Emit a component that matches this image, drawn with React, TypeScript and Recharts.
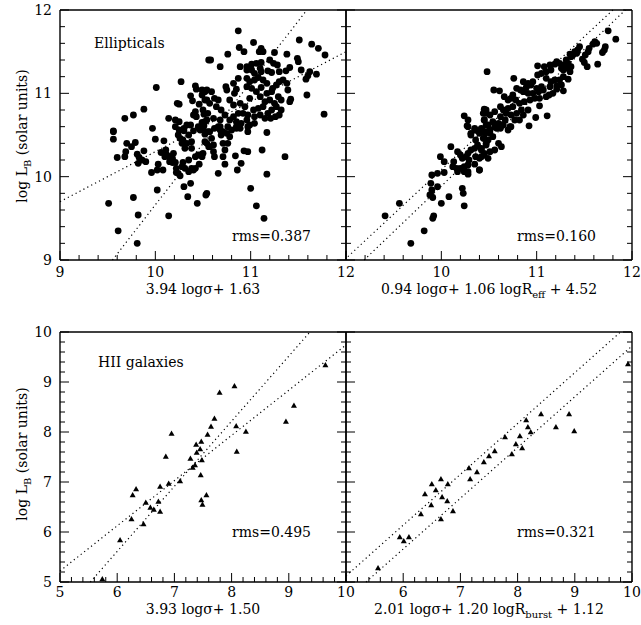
import React from 'react';
import { ScatterChart, Scatter, XAxis, YAxis, ReferenceLine } from 'recharts';

type Pt = [number, number];

// Ellipticals: x = 3.94 log sigma + 1.63, y = log L_B
const ellSigmaPts: Pt[] = [
  [10.56,11.40],[10.27,11.14],[10.01,11.07],[10.42,11.09],[10.43,11.05],[10.49,11.04],[10.52,11.02],[10.37,10.97],[10.23,10.88],[10.25,10.87],[10.39,10.91],[10.46,10.87],[10.54,10.92],[9.88,10.81],[9.77,10.74],[9.68,10.70],[10.14,10.70],[10.21,10.68],[10.42,10.78],[10.40,10.74],[10.43,10.72],[10.51,10.75],[10.25,10.66],[10.33,10.62],[10.37,10.62],[10.30,10.58],[10.21,10.60],[10.49,10.65],[10.54,10.68],[10.46,10.58],[10.51,10.61],[9.56,10.54],[9.97,10.58],
  [10.87,11.75],[11.03,11.61],[10.88,11.55],[10.93,11.50],[11.11,11.54],[11.13,11.50],[11.09,11.50],[10.76,11.47],[11.25,11.49],[11.38,11.47],[11.51,11.64],[11.64,11.59],[11.71,11.54],[11.78,11.46],[11.49,11.42],[11.50,11.38],[10.58,11.40],[10.68,11.32],[10.89,11.32],[11.01,11.35],[11.06,11.36],[11.11,11.37],[11.20,11.40],[11.24,11.36],[11.28,11.34],[10.96,11.32],[10.96,11.28],[11.01,11.28],[11.10,11.30],[11.11,11.26],[11.04,11.24],[11.18,11.27],[11.22,11.25],[11.30,11.26],[11.37,11.27],[11.41,11.31],[11.53,11.28],[11.58,11.17],[11.60,11.21],[11.69,11.23],[11.62,11.26],[11.59,10.98],[11.77,10.75],[11.41,10.90],[11.42,10.93],[11.39,11.04],[11.38,11.12],[11.34,11.16],[11.30,11.14],[11.27,11.10],[11.23,11.06],[10.87,11.18],[10.82,11.12],[10.75,11.04],[10.74,11.08],[10.85,11.05],[10.83,11.00],[10.96,11.18],[10.99,11.14],[11.04,11.16],[11.08,11.19],[11.13,11.16],[11.17,11.12],[10.96,11.08],[11.01,11.06],[11.06,11.02],[11.11,11.07],[11.17,11.00],[11.22,11.02],[11.29,10.96],[11.32,10.92],[11.20,10.92],[11.25,10.88],[11.15,10.90],[11.10,10.96],[10.54,11.04],[10.59,11.02],[10.49,10.98],[10.52,10.92],[10.62,10.94],[10.66,10.92],[10.57,10.88],[10.50,10.80],[10.55,10.76],[10.64,10.84],[10.69,10.80],[10.73,10.74],[10.61,10.70],[10.68,10.68],[10.52,10.66],
  [10.78,10.92],[10.82,10.86],[10.89,10.88],[10.94,10.84],[10.99,10.94],[11.03,10.80],[11.08,10.82],[11.13,10.84],[11.18,10.76],[11.22,10.80],[11.27,10.84],[11.32,10.80],[11.30,10.74],[11.26,10.72],[11.21,10.70],[11.15,10.70],[11.10,10.74],[11.04,10.72],[10.97,10.74],[10.92,10.76],[10.87,10.76],[10.82,10.72],[10.78,10.68],[10.85,10.66],[10.90,10.64],[10.96,10.68],[10.99,10.62],[11.04,10.64],[10.76,10.60],[10.68,10.60],[10.62,10.58],[10.71,10.54],[10.85,10.58],[10.97,10.54],[10.57,10.54],[10.49,10.62],
  [9.56,10.55],[9.56,10.45],[9.70,10.40],[9.75,10.36],[9.79,10.41],[9.69,10.30],[9.68,10.24],[9.60,10.23],[9.81,10.27],[9.83,10.23],[9.86,10.20],[9.88,10.31],[9.90,10.18],[9.82,10.16],[10.00,10.45],[10.09,10.43],[10.06,10.29],[10.11,10.32],[10.12,10.26],[10.10,10.24],[10.15,10.24],[10.19,10.28],[10.18,10.22],[10.15,10.18],[10.18,10.17],[10.03,10.15],[9.96,10.05],[10.02,10.08],[10.08,10.08],[10.21,10.17],[10.22,10.10],[10.22,10.05],[10.26,10.01],[10.24,10.04],[10.25,10.56],[10.30,10.55],[10.26,10.46],[10.29,10.44],[10.35,10.50],[10.28,10.40],[10.33,10.40],[10.38,10.42],[10.38,10.34],[10.31,10.34],[10.24,10.50],[10.40,10.55],[10.45,10.60],[10.47,10.56],[10.52,10.51],[10.54,10.40],[10.56,10.36],[10.45,10.26],[10.49,10.27],[10.42,10.24],[10.35,10.20],[10.29,10.17],[10.28,10.12],[10.31,10.10],[10.38,10.10],[10.42,10.10],[10.35,10.06],[10.40,10.08],[10.46,10.15],[9.51,9.68],[9.77,9.75],[9.82,9.54],[10.02,9.84],[10.14,9.53],[9.61,9.35],[9.81,9.20],[10.30,9.88],[10.37,9.92],[10.34,9.76],[10.44,9.68],[10.54,9.80],[10.53,9.78],
  [11.17,10.53],[11.12,10.32],[11.36,10.24],[10.93,10.31],[10.97,10.30],[10.84,10.25],[10.90,10.16],[10.86,10.08],[10.73,10.15],[10.66,10.04],[11.17,10.03],[11.00,9.86],[11.06,9.65],[11.14,9.50],[10.50,10.58],[10.55,10.54],[10.66,10.60],[10.68,10.56],[10.69,10.50],[10.75,10.52],[10.78,10.48],[10.80,10.56],[10.85,10.60],[10.89,10.58],[10.97,10.60],[10.52,10.42],[10.59,10.46],[10.61,10.38],[10.57,10.36],[10.71,10.40],[10.73,10.32],[10.76,10.40],[10.62,10.24],[10.71,10.24],[10.61,10.30],[10.50,10.28],[10.49,10.24],
];

// Ellipticals: x = 0.94 log sigma + 1.06 log Reff + 4.52, y = log L_B
const ellReffPts: Pt[] = [
  [11.75,11.75],[11.83,11.65],[11.63,11.60],[11.59,11.59],[11.61,11.62],[11.71,11.52],[11.72,11.56],[11.69,11.49],[11.64,11.35],[11.45,11.56],[11.43,11.52],[11.42,11.48],[11.40,11.50],[11.38,11.46],[11.36,11.44],[11.35,11.47],[11.54,11.50],[11.55,11.54],[11.51,11.46],[11.48,11.41],[11.50,11.37],[11.53,11.32],[11.31,11.40],[11.33,11.36],[11.29,11.34],[11.26,11.30],[11.21,11.38],[11.19,11.35],[11.24,11.36],[11.28,11.28],[11.33,11.30],[11.35,11.26],[11.36,11.32],[11.01,11.33],[11.08,11.32],[11.14,11.34],[11.15,11.28],[11.10,11.26],[11.05,11.24],[11.01,11.22],[10.48,11.26],[10.76,11.18],[11.28,11.20],[11.33,11.17],[11.24,11.16],[11.19,11.16],[11.15,11.14],[11.10,11.18],[11.21,11.09],[11.26,11.10],[11.14,11.08],[10.86,11.14],[10.91,11.12],[10.94,11.10],[10.89,11.07],[10.96,11.14],[11.00,11.06],[11.05,11.08],[11.07,11.04],[11.02,11.02],[10.96,11.00],[10.91,11.00],[10.86,11.02],[10.83,11.04],[10.79,11.06],[10.55,11.04],[10.61,11.03],[10.66,10.96],[10.70,10.92],[10.75,10.98],[10.73,10.94],[10.78,10.92],[10.82,10.88],[10.87,10.90],[10.93,10.92],[10.98,10.94],[11.03,10.94],[11.10,10.96],[11.13,10.98],[11.17,11.00],[11.21,11.05],[11.28,11.03],[11.03,10.85],[10.99,10.71],[11.11,10.73],[10.92,10.61],[10.47,10.80],[10.51,10.74],[10.44,10.76],[10.56,10.78],[10.62,10.84],[10.65,10.80],[10.70,10.82],[10.75,10.84],[10.68,10.76],[10.73,10.74],[10.79,10.76],[10.84,10.80],[10.62,10.72],[10.67,10.68],[10.60,10.64],[10.54,10.66],[10.49,10.62],[10.45,10.68],[10.42,10.58],[10.51,10.56],[10.58,10.58],[10.63,10.62],[10.72,10.60],[10.82,10.68],[10.77,10.68],[10.46,10.52],[10.51,10.52],[10.91,10.80],[10.86,10.74],
  [10.45,10.81],[10.47,10.76],[10.24,10.73],[10.28,10.68],[10.27,10.61],[10.35,10.58],[10.38,10.55],[10.42,10.57],[10.31,10.52],[10.45,10.68],[10.47,10.62],
  [10.10,10.36],[9.99,10.24],[10.03,10.18],[10.17,10.30],[10.20,10.26],[10.22,10.22],[10.13,10.18],[10.12,10.12],[10.16,10.10],[10.20,10.10],[10.24,10.12],[10.28,10.14],[10.29,10.20],[10.26,10.24],[10.28,10.28],[10.31,10.32],[10.35,10.34],[10.38,10.38],[10.36,10.44],[10.28,10.60],[10.31,10.50],[10.35,10.56],[10.40,10.52],[10.43,10.54],[10.45,10.46],[10.47,10.40],[10.42,10.32],[10.45,10.26],[10.36,10.24],[10.40,10.22],[10.35,10.15],[10.28,10.06],[10.24,10.06],[10.17,10.06],[10.40,10.08],[10.28,10.03],[9.90,10.02],[9.89,9.92],[9.90,9.84],[9.89,9.78],[9.96,10.04],[10.03,10.05],[9.96,9.88],[9.88,9.78],[9.91,9.75],[10.22,9.86],[10.23,9.80],[10.24,9.65],[10.08,9.76],[10.00,9.68],[9.56,9.68],[9.41,9.53],[9.92,9.53],[9.91,9.50],[9.82,9.35],[9.68,9.20],
  [10.46,10.54],[10.51,10.56],[10.56,10.60],[10.62,10.58],[10.65,10.62],[10.70,10.56],[10.73,10.60],[10.44,10.46],[10.49,10.44],[10.54,10.48],[10.60,10.40],[10.63,10.36],[10.47,10.38],[10.42,10.34],[10.45,10.28],[10.51,10.30],[10.56,10.32],[10.42,10.24],[10.49,10.22],[10.40,10.08],
];

// HII galaxies: x = 3.93 log sigma + 1.50, y = log L_B
const hiiSigmaPts: Pt[] = [
  [9.64,9.34],[8.05,8.92],[7.79,8.79],[9.09,8.53],[8.95,8.21],[7.70,8.27],[7.64,8.11],[8.08,8.12],[8.25,8.01],[7.58,7.95],[6.95,7.97],[7.47,7.81],[7.38,7.75],[7.45,7.66],[7.39,7.59],[8.09,7.61],[7.48,7.44],[7.28,7.47],[6.85,7.51],[7.36,7.34],[7.32,7.29],[7.46,7.14],[7.10,7.02],[6.90,6.97],[6.75,6.91],[6.33,6.86],[6.27,6.74],[6.50,6.59],[6.72,6.61],[6.58,6.49],[6.64,6.45],[6.75,6.41],[6.25,6.26],[6.46,6.16],[6.05,5.84],[5.74,5.06],[7.47,6.64],[7.49,6.55],[7.56,6.74],
];

// HII galaxies: x = 2.01 log sigma + 1.20 log Rburst + 1.12, y = log L_B
const hiiBurstPts: Pt[] = [
  [9.93,9.36],[8.90,8.36],[8.41,8.36],[8.15,8.24],[8.67,8.10],[8.99,8.02],[8.18,8.10],[8.04,7.92],[8.23,8.00],[7.78,7.90],[7.97,7.76],[8.08,7.68],[7.90,7.56],[7.60,7.62],[7.50,7.52],[7.41,7.40],[7.15,7.28],[7.29,7.20],[7.17,7.06],[6.66,7.06],[6.50,6.96],[6.78,6.96],[6.57,6.84],[6.38,6.76],[6.68,6.70],[6.77,6.62],[6.49,6.54],[6.87,6.42],[6.66,6.26],[6.31,6.36],[5.94,5.90],[6.10,5.90],[6.01,5.82],[5.56,5.28],
];

// dotted fit lines (two endpoints each)
const ellSigmaFits: [Pt, Pt][] = [[[9, 9.70], [12, 11.50]], [[9.55, 9], [11.59, 12]]];
const ellReffFits: [Pt, Pt][] = [[[9.02, 9.04], [11.8, 12]], [[9.19, 9], [11.93, 12]]];
const hiiSigmaFits: [Pt, Pt][] = [[[5, 5.22], [10, 9.74]], [[5.53, 5], [9.37, 10]]];
const hiiBurstFits: [Pt, Pt][] = [[[5, 5.12], [9.8, 10]], [[5.35, 5], [10, 9.72]]];

const ellTicks = [9, 9.2, 9.4, 9.6, 9.8, 10, 10.2, 10.4, 10.6, 10.8, 11, 11.2, 11.4, 11.6, 11.8, 12];
const hiiTicks = [5, 5.2, 5.4, 5.6, 5.8, 6, 6.2, 6.4, 6.6, 6.8, 7, 7.2, 7.4, 7.6, 7.8, 8, 8.2, 8.4, 8.6, 8.8, 9, 9.2, 9.4, 9.6, 9.8, 10];

const tlXLabels = [9, 10, 11, 12];
const tlYLabels = [9, 10, 11, 12];
const trXLabels = [10, 11, 12];
const blXLabels = [5, 6, 7, 8, 9, 10];
const blYLabels = [5, 6, 7, 8, 9, 10];
const brXLabels = [6, 7, 8, 9, 10];

const FONT = 'DejaVu Serif';
const FS = 14;

const isMajor = (v: number) => Math.abs(v - Math.round(v)) < 1e-6;
const hasLabel = (v: number, labels: number[]) => labels.some((l) => Math.abs(l - v) < 1e-6);

const MINOR = 5;
const MAJOR = 9;

function makeTick(side: 'bottom' | 'top' | 'left' | 'right', labels: number[], labelGap = 17) {
  return (p: any) => {
    const { x, y } = p;
    const v = p.payload.value as number;
    const len = isMajor(v) ? MAJOR : MINOR;
    const show = hasLabel(v, labels);
    let line;
    if (side === 'bottom') line = <line x1={x} y1={y} x2={x} y2={y - len} stroke="#000" strokeWidth={1} />;
    else if (side === 'top') line = <line x1={x} y1={y} x2={x} y2={y + len} stroke="#000" strokeWidth={1} />;
    else if (side === 'left') line = <line x1={x} y1={y} x2={x + len} y2={y} stroke="#000" strokeWidth={1} />;
    else line = <line x1={x} y1={y} x2={x - len} y2={y} stroke="#000" strokeWidth={1} />;
    return (
      <g>
        {line}
        {show && side === 'bottom' && (
          <text x={x} y={y + labelGap} textAnchor="middle" fontFamily={FONT} fontSize={FS} fill="#000">{String(v)}</text>
        )}
        {show && side === 'left' && (
          <text x={x - 8} y={y + 5} textAnchor="end" fontFamily={FONT} fontSize={FS} fill="#000">{String(v)}</text>
        )}
      </g>
    );
  };
}

const circleShape = (p: any) => <circle cx={p.cx} cy={p.cy} r={3.4} fill="#000" />;
const triShape = (p: any) => (
  <polygon points={`${p.cx},${p.cy - 3} ${p.cx - 3},${p.cy + 2.2} ${p.cx + 3},${p.cy + 2.2}`} fill="#000" />
);

interface PanelProps {
  left: number;
  top: number;
  domain: [number, number];
  ticks: number[];
  xLabels: number[];
  yLabels: number[];
  pts: Pt[];
  fits: [Pt, Pt][];
  shape: (p: any) => React.ReactElement;
  labelGap: number;
}

function Panel({ left, top, domain, ticks, xLabels, yLabels, pts, fits, shape, labelGap }: PanelProps) {
  const L = 60, T = 10, R = 9, B = 50, W = 286, H = 250;
  const data = pts.map(([x, y]) => ({ x, y }));
  const axisLine = { stroke: '#000', strokeWidth: 1.4 };
  return (
    <div style={{ position: 'absolute', left: left - L, top: top - T }}>
      <ScatterChart width={L + W + R} height={T + H + B} margin={{ top: 0, right: 0, bottom: 0, left: 0 }}>
        <XAxis xAxisId="b" dataKey="x" type="number" orientation="bottom" domain={domain} ticks={ticks} interval={0}
          height={B} tickSize={0} tickMargin={0} tickLine={false} axisLine={axisLine} tick={makeTick('bottom', xLabels, labelGap)} allowDataOverflow />
        <XAxis xAxisId="t" type="number" orientation="top" domain={domain} ticks={ticks} interval={0}
          height={T} tickSize={0} tickMargin={0} tickLine={false} axisLine={axisLine} tick={makeTick('top', [])} allowDataOverflow />
        <YAxis yAxisId="l" dataKey="y" type="number" orientation="left" domain={domain} ticks={ticks} interval={0}
          width={L} tickSize={0} tickMargin={0} tickLine={false} axisLine={axisLine} tick={makeTick('left', yLabels)} allowDataOverflow />
        <YAxis yAxisId="r" type="number" orientation="right" domain={domain} ticks={ticks} interval={0}
          width={R} tickSize={0} tickMargin={0} tickLine={false} axisLine={axisLine} tick={makeTick('right', [])} allowDataOverflow />
        {fits.map((f, i) => (
          <ReferenceLine key={i} xAxisId="b" yAxisId="l" segment={[{ x: f[0][0], y: f[0][1] }, { x: f[1][0], y: f[1][1] }]}
            stroke="#000" strokeWidth={1.2} strokeDasharray="1.2 3.2" ifOverflow="visible" />
        ))}
        <Scatter xAxisId="b" yAxisId="l" data={data} shape={shape} isAnimationActive={false} />
      </ScatterChart>
    </div>
  );
}

const txt = { fontFamily: FONT, fontSize: FS, fill: '#000' };
const sub = { fontSize: 10 };

export default function App() {
  return (
    <div style={{ position: 'absolute', left: 0, top: 0, width: 641, height: 625, overflow: 'hidden', background: '#fff' }}>
      <Panel left={60} top={10} domain={[9, 12]} ticks={ellTicks} xLabels={tlXLabels} yLabels={tlYLabels} pts={ellSigmaPts} fits={ellSigmaFits} shape={circleShape} labelGap={17} />
      <Panel left={346} top={10} domain={[9, 12]} ticks={ellTicks} xLabels={trXLabels} yLabels={[]} pts={ellReffPts} fits={ellReffFits} shape={circleShape} labelGap={17} />
      <Panel left={60} top={332} domain={[5, 10]} ticks={hiiTicks} xLabels={blXLabels} yLabels={blYLabels} pts={hiiSigmaPts} fits={hiiSigmaFits} shape={triShape} labelGap={15} />
      <Panel left={346} top={332} domain={[5, 10]} ticks={hiiTicks} xLabels={brXLabels} yLabels={[]} pts={hiiBurstPts} fits={hiiBurstFits} shape={triShape} labelGap={15} />
      <svg width={641} height={625} style={{ position: 'absolute', left: 0, top: 0, pointerEvents: 'none' }}>
        <text x={94} y={48} {...txt}>Ellipticals</text>
        <text x={98} y={367} {...txt}>HII  galaxies</text>
        <text x={232} y={241} {...txt}>rms=0.387</text>
        <text x={517} y={241} {...txt}>rms=0.160</text>
        <text x={232} y={537} {...txt}>rms=0.495</text>
        <text x={517} y={537} {...txt}>rms=0.321</text>
        <text x={203} y={294} textAnchor="middle" {...txt}>3.94 logσ+ 1.63</text>
        <text x={489} y={294} textAnchor="middle" {...txt}>0.94 logσ+ 1.06 logR<tspan dy={4} {...sub}>eff</tspan><tspan dy={-4}> + 4.52</tspan></text>
        <text x={203} y={614} textAnchor="middle" {...txt}>3.93 logσ+ 1.50</text>
        <text x={489} y={614} textAnchor="middle" {...txt}>2.01 logσ+ 1.20 logR<tspan dy={4} {...sub}>burst</tspan><tspan dy={-4}> + 1.12</tspan></text>
        <text transform="translate(27,136) rotate(-90)" textAnchor="middle" {...txt}>log L<tspan dy={4} {...sub}>B</tspan><tspan dy={-4}> (solar units)</tspan></text>
        <text transform="translate(27,454) rotate(-90)" textAnchor="middle" {...txt}>log L<tspan dy={4} {...sub}>B</tspan><tspan dy={-4}> (solar units)</tspan></text>
      </svg>
    </div>
  );
}
